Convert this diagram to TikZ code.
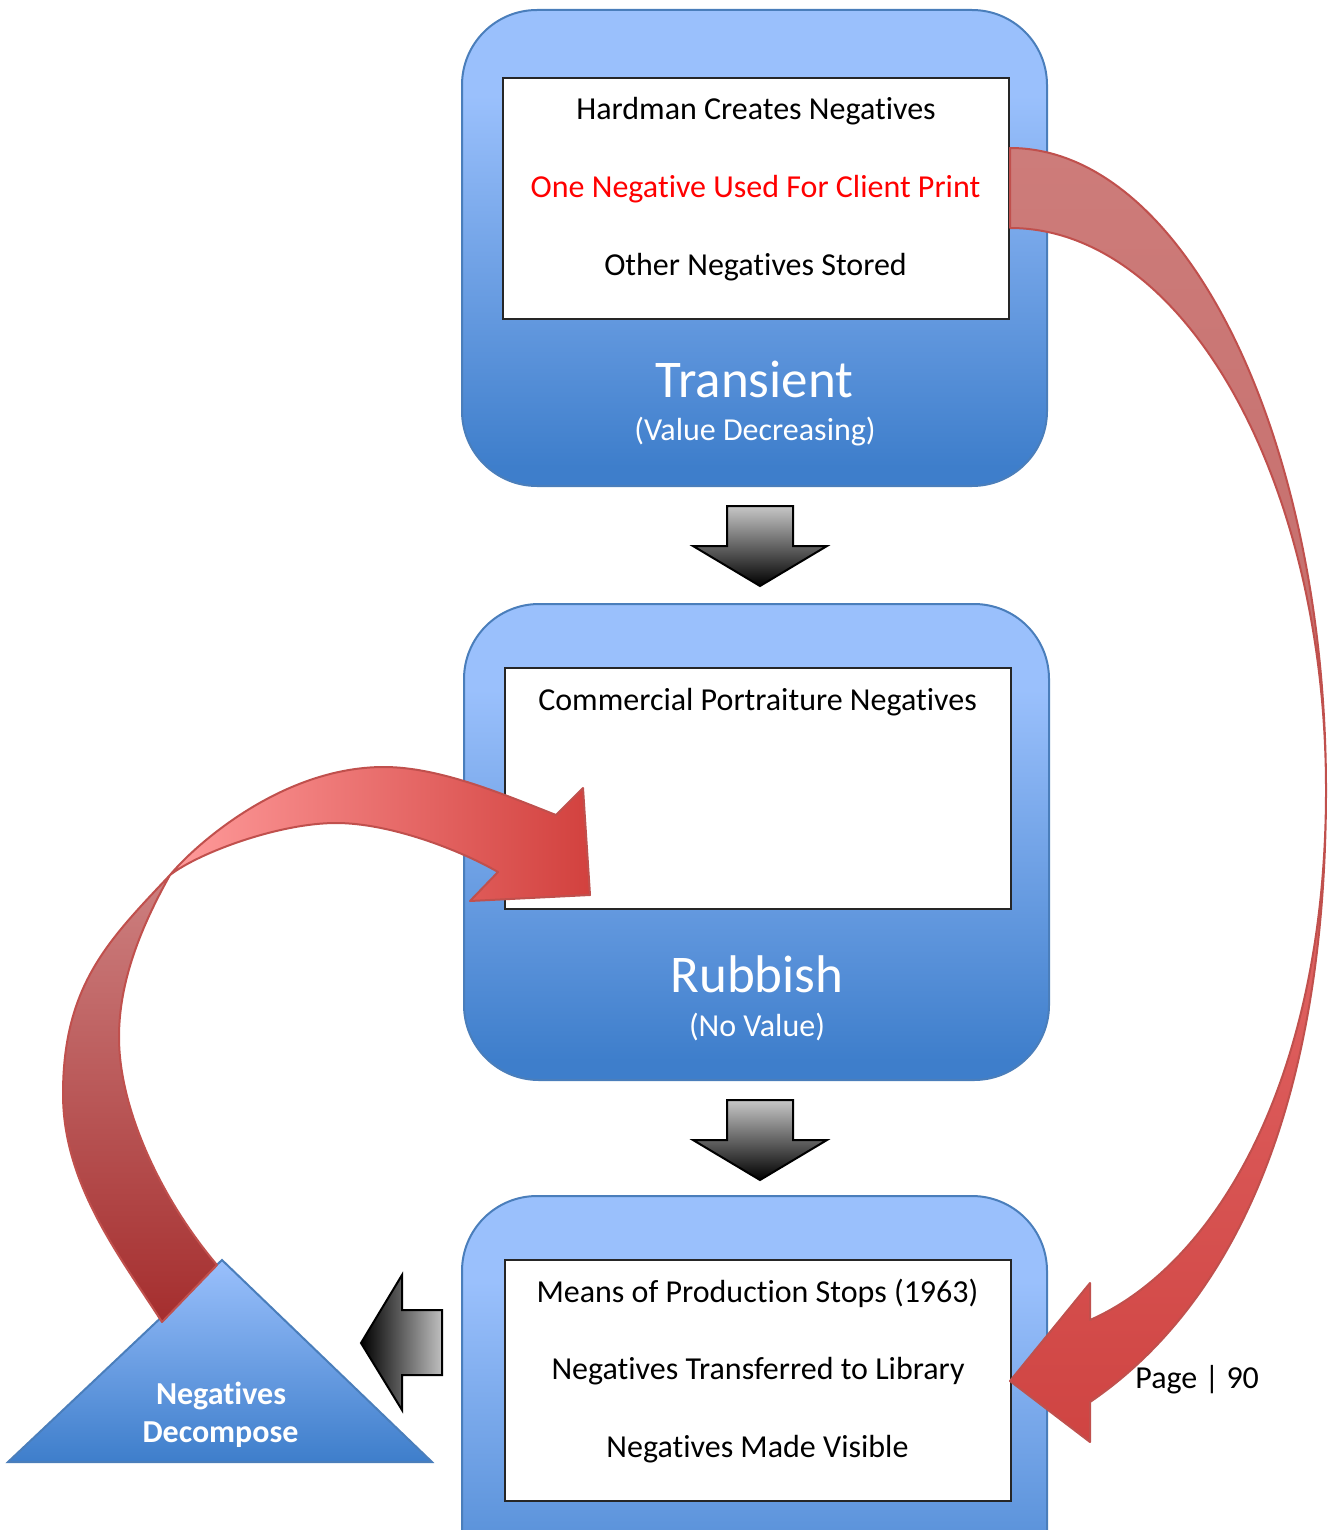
\documentclass[tikz,border=0pt]{standalone}
\usepackage{fontspec}
\setmainfont{Carlito}[Ligatures=NoCommon]
\definecolor{bLight}{HTML}{9AC0FC}
\definecolor{bDark}{HTML}{3E7ECB}
\definecolor{bEdge}{HTML}{4A7EBB}
\definecolor{rEdge}{HTML}{C0504D}
\pgfdeclareverticalshading{blueboxshade}{100bp}{color(0bp)=(bDark); color(27bp)=(bDark); color(66bp)=(bLight); color(100bp)=(bLight)}
\begin{document}
\begin{tikzpicture}[x=0.5pt,y=-0.5pt,
  bluebox/.style={shade, shading=blueboxshade, draw=bEdge, line width=1pt, rounded corners=37.5pt, minimum width=292.5pt, minimum height=238pt, inner sep=0pt},
  whitebox/.style={draw=black!85, fill=white, line width=1pt, minimum width=253pt, minimum height=120.5pt, inner sep=0pt},
  txt/.style={anchor=base, inner sep=0pt, font=\fontsize{16}{19}\selectfont},
  title/.style={anchor=base, inner sep=0pt, text=white, font=\fontsize{26.5}{31}\selectfont},
  sub/.style={anchor=base, inner sep=0pt, text=white, font=\fontsize{16}{19}\selectfont},
  tritxt/.style={anchor=base, inner sep=0pt, text=white, font=\bfseries\fontsize{16}{19}\selectfont},
  grayarrow/.style={draw=black, line width=1pt},
  redarrow/.style={draw=rEdge, line width=1pt, line join=round}
]
\path[use as bounding box] (0,0) rectangle (1336,1530);
\clip (0,0) rectangle (1336,1530);

% boxes
\node[bluebox] (tBox) at (754.5,248) {};
\node[whitebox] (tWhite) at (755.5,198.5) {};
\node[txt] (tl1) at (756,120) {Hardman Creates Negatives};
\node[txt, text=red] (tl2) at (755.5,198) {One Negative Used For Client Print};
\node[txt] (tl3) at (755.5,276) {Other Negatives Stored};
\node[title] (tTitle) at (754.5,397) {Transient};
\node[sub] (tSub) at (755,440) {(Value Decreasing)};

\node[bluebox] (rBox) at (756.5,842) {};
\node[whitebox] (rWhite) at (758,788.5) {};
\node[txt] (rl1) at (757.5,710) {Commercial Portraiture Negatives};
\node[title] (rTitle) at (757,992) {Rubbish};
\node[sub] (rSub) at (757,1036) {(No Value)};

\node[bluebox] (lBox) at (754.5,1434) {};
\node[whitebox] (lWhite) at (758,1380.5) {};
\node[txt] (ll1) at (757.5,1302) {Means of Production Stops (1963)};
\node[txt] (ll2) at (758,1379) {Negatives Transferred to Library};
\node[txt] (ll3) at (757.5,1457) {Negatives Made Visible};

% gray block arrows
\shade[grayarrow, top color=black!22, bottom color=black]
  (727,506) -- (793,506) -- (793,546) -- (827,546) -- (760,586) -- (693,546) -- (727,546) -- cycle;
\shade[grayarrow, top color=black!22, bottom color=black]
  (727,1100) -- (793,1100) -- (793,1140) -- (827,1140) -- (760,1180) -- (693,1140) -- (727,1140) -- cycle;
\shade[grayarrow, left color=black, right color=black!25]
  (361,1343) -- (402,1275) -- (402,1310) -- (442,1310) -- (442,1375) -- (402,1375) -- (402,1410) -- cycle;

% triangle
\shade[top color=bLight, bottom color=bDark, draw=bEdge, line width=1pt]
  (222,1260) -- (432,1462) -- (8,1462) -- cycle;
\node[tritxt] (triA) at (221,1404) {Negatives};
\node[tritxt] (triB) at (220.5,1442) {Decompose};

% left curved arrow: lower band
\shade[redarrow, top color={rgb,255:red,205;green,128;blue,128}, bottom color={rgb,255:red,165;green,46;blue,46}]
  (162,1322) .. controls (119,1255) and (63,1184) .. (63,1094)
  .. controls (63,984) and (110,939) .. (170,875)
  .. controls (142,925) and (119,980) .. (119,1037)
  .. controls (119,1110) and (162,1200) .. (217,1265)
  -- cycle;
% left curved arrow: upper band and head
\shade[redarrow, left color={rgb,255:red,255;green,155;blue,155}, right color={rgb,255:red,210;green,65;blue,62}]
  (170,875) .. controls (195,845) and (282,767) .. (384,767)
  .. controls (440,767) and (505,795) .. (556,815)
  -- (583,788) -- (590,895) -- (470,901) -- (498,872)
  .. controls (460,850) and (390,823) .. (336,823)
  .. controls (280,823) and (200,852) .. (170,875)
  -- cycle;

% right curved arrow: upper part
\shade[redarrow, top color={rgb,255:red,205;green,124;blue,122}, bottom color={rgb,255:red,196;green,108;blue,106}]
  (1010,148) .. controls (1184,148) and (1326,436) .. (1326,790)
  .. controls (1326,480) and (1184,228) .. (1010,228)
  -- cycle;
% right curved arrow: lower part and head
\shade[redarrow, top color={rgb,255:red,228;green,106;blue,106}, bottom color={rgb,255:red,207;green,68;blue,66}]
  (1326,790) .. controls (1326,1120) and (1225,1310) .. (1090,1402)
  -- (1090,1442) -- (1010,1381) -- (1090,1283) -- (1090,1320)
  .. controls (1215,1265) and (1326,1080) .. (1326,790)
  -- cycle;

\node[txt, anchor=base west] (page) at (1135,1388) {Page | 90};
\end{tikzpicture}
\end{document}
